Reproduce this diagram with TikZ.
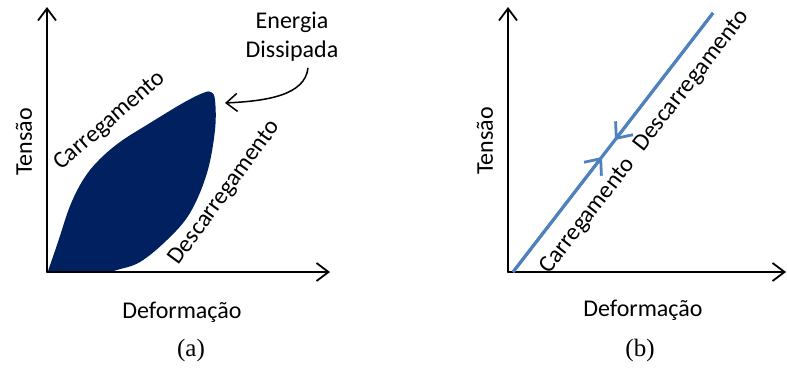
\documentclass[tikz,border=0pt]{standalone}
\usepackage{fontspec}
\setmainfont{Carlito}
\newfontfamily\capfont{Liberation Serif}
\usetikzlibrary{arrows.meta, positioning}
\definecolor{blobnavy}{HTML}{002060}
\definecolor{lineblue}{HTML}{4F81BD}
\tikzset{
  axis/.style={line width=1.8pt, line cap=round,
    -{Straight Barb[length=12pt,width=18pt]}},
  lbl/.style={font=\fontsize{24}{29}\selectfont, inner sep=2pt},
  captxt/.style={font=\capfont\fontsize{25}{30}\selectfont, inner sep=2pt},
  blob/.style={fill=blobnavy, draw=none},
  pointer/.style={line width=1.5pt, -{Straight Barb[length=11pt,width=18pt]}},
  loadline/.style={draw=lineblue, line width=3.2pt},
  loadarrow/.style={draw=lineblue, line width=2.8pt,
    -{Straight Barb[length=13pt,width=22pt]}}
}

\begin{document}
\begin{tikzpicture}[x=1pt, y=-1pt]
  \useasboundingbox (0,0) rectangle (787,367);

  % (a) loading / unloading with dissipated energy
  \coordinate (Oa) at (47,272);
  \coordinate (ya) at (47,7);
  \coordinate (xa) at (330,272);
  \fill[blob] plot[smooth, tension=0.6] coordinates {
    (48,271) (58,242) (70,206) (83,180) (98,161) (120,142) (150,123)
    (183,103) (203,93) (211,92) (215,100) (215,130) (207,173) (190,213)
    (167,240) (140,262) (117,270) (107,273)} -- cycle;
  \draw[axis] (Oa) -- (ya);
  \draw[axis] (Oa) -- (xa);
  \node[lbl, rotate=90] (tensA) at (24,142) {Tensão};
  \node[lbl] (defA) at (182,312) {Deformação};
  \node[captxt] (capA) at (191,350) {(a)};
  \node[lbl, rotate=41] (carA) at (110,121) {Carregamento};
  \node[lbl, rotate=54] (desA) at (225,193) {Descarregamento};
  \node[lbl, align=center] (energia) at (292,37) {Energia\\Dissipada};
  \coordinate (blobtip) at (225,103);
  \draw[pointer] ([xshift=16pt,yshift=-4pt]energia.south)
    .. controls (305,95) and (268,101) .. (blobtip);

  % (b) elastic: same path both ways
  \coordinate (Ob) at (508,272);
  \coordinate (yb) at (508,7);
  \coordinate (xb) at (786,272);
  \draw[axis] (Ob) -- (yb);
  \draw[axis] (Ob) -- (xb);
  \coordinate (Ls) at (513,272);
  \coordinate (Le) at (713,13);
  \coordinate (Lup) at (602,157);
  \coordinate (Ldn) at (615,140);
  \draw[loadline] (Ls) -- (Le);
  \draw[loadarrow] (Ls) -- (Lup);
  \draw[loadarrow] (Le) -- (Ldn);
  \node[lbl, rotate=90] (tensB) at (485,141) {Tensão};
  \node[lbl] (defB) at (643,310) {Deformação};
  \node[captxt] (capB) at (640,350) {(b)};
  \node[lbl, rotate=52] (carB) at (588,216) {Carregamento};
  \node[lbl, rotate=52] (desB) at (692,81) {Descarregamento};
\end{tikzpicture}
\end{document}
